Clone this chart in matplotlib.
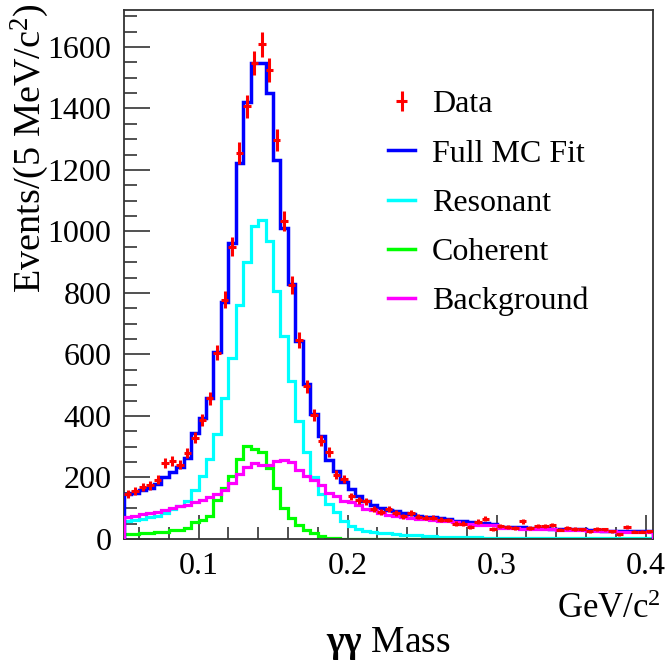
import numpy as np
import matplotlib
matplotlib.use("Agg")
import matplotlib.pyplot as plt
from matplotlib.lines import Line2D
from matplotlib.container import ErrorbarContainer
from matplotlib.legend_handler import HandlerErrorbar

plt.rcParams['font.family'] = ['Liberation Serif', 'DejaVu Serif']
plt.rcParams['mathtext.fontset'] = 'custom'
plt.rcParams['mathtext.rm'] = 'Liberation Serif'
plt.rcParams['mathtext.it'] = 'Liberation Serif:italic'
plt.rcParams['mathtext.bf'] = 'Liberation Serif:bold'

# ---- data (bins of 5 MeV/c^2 from 0.050 to 0.405 GeV/c^2) ----
x_min = 0.05
bin_width = 0.005

data_counts = [147, 155, 170, 174, 193, 247, 253, 242, 280, 329,
               386, 458, 605, 778, 951, 1256, 1407, 1548, 1608, 1524,
               1297, 1034, 826, 648, 496, 404, 320, 282, 209, 195,
               139, 126, 123, 98, 87, 96, 85, 74, 85, 72,
               69, 69, 63, 62, 50, 50, 38, 56, 66, 33,
               42, 40, 36, 58, 36, 42, 42, 46, 30, 36,
               33, 31, 25, 33, 31, 25, 15, 40, 23, 23,
               25]

full_fit = [145, 150, 158, 165, 178, 200, 217, 235, 262, 345,
            395, 460, 607, 769, 964, 1221, 1422, 1549, 1549, 1451,
            1231, 1010, 828, 644, 503, 406, 335, 258, 220, 185,
            161, 139, 125, 112, 101, 95, 90, 85, 80, 76,
            72, 70, 68, 65, 60, 57, 55, 53, 52, 50,
            40, 39, 38, 38, 37, 36, 35, 34, 33, 32,
            32, 31, 30, 28, 27, 27, 26, 26, 25, 25,
            25]

resonant = [58, 62, 66, 70, 76, 86, 96, 108, 125, 160,
            205, 260, 340, 460, 590, 760, 900, 1017, 1036, 968,
            806, 660, 514, 384, 282, 200, 146, 114, 87, 59,
            43, 32, 27, 22, 20, 18, 16, 14, 13, 12,
            10, 9, 8, 7, 6, 6, 5, 5, 4, 4,
            3, 3, 3, 3, 3, 3, 3, 3, 3, 2,
            2, 2, 2, 2, 2, 2, 2, 2, 2, 2,
            2]

coherent = [15, 15, 20, 20, 22, 22, 28, 30, 36, 55,
            62, 76, 128, 166, 204, 260, 301, 293, 282, 231,
            166, 101, 69, 45, 30, 18, 10, 4, 2, 1,
            0, 0, 0, 0, 0, 0, 0, 0, 0, 0,
            0, 0, 0, 0, 0, 0, 0, 0, 0, 0,
            0, 0, 0, 0, 0, 0, 0, 0, 0, 0,
            0, 0, 0, 0, 0, 0, 0, 0, 0, 0,
            0]

background = [72, 76, 80, 84, 88, 94, 100, 106, 112, 120,
              128, 136, 146, 160, 182, 212, 234, 246, 242, 240,
              252, 258, 250, 225, 205, 193, 175, 150, 139, 123,
              120, 112, 98, 94, 85, 78, 75, 72, 69, 66,
              64, 62, 60, 58, 54, 50, 48, 47, 46, 45,
              36, 35, 35, 34, 34, 33, 32, 31, 30, 30,
              29, 28, 27, 26, 25, 25, 24, 24, 23, 23,
              23]

labels = ["Data", "Full MC Fit", "Resonant", "Coherent", "Background"]

# ---- figure ----
W = H = 666
fig = plt.figure(figsize=(W / 100, H / 100), dpi=100)
ax_l, ax_r, ax_t, ax_b = 124, 653, 10, 539
ax = fig.add_axes([ax_l / W, 1 - ax_b / H, (ax_r - ax_l) / W, (ax_b - ax_t) / H])

n = len(data_counts)
edges = x_min + bin_width * np.arange(n + 1)
centers = 0.5 * (edges[:-1] + edges[1:])

ax.stairs(resonant, edges, color='#00ffff', lw=2.3, zorder=2)
ax.stairs(coherent, edges, color='#00ff00', lw=2.3, zorder=2)
ax.stairs(full_fit, edges, color='#0000ff', lw=2.5, zorder=3)
ax.stairs(background, edges, color='#ff00ff', lw=2.3, zorder=4)

d = np.array(data_counts, dtype=float)
eb = ax.errorbar(centers, d, yerr=np.sqrt(d), xerr=bin_width / 2, fmt='none',
                 ecolor='#ff0000', elinewidth=2.2, capsize=0, zorder=5)

ax.set_xlim(0.05, 0.405)
ax.set_ylim(0, 1720)

ax.set_xticks([0.1, 0.2, 0.3, 0.4])
ax.set_xticks(np.arange(0.06, 0.405, 0.02), minor=True)
ax.set_yticks(np.arange(0, 1601, 200))
ax.set_yticks(np.arange(0, 1720, 50), minor=True)
ax.set_xticklabels(["0.1", "0.2", "0.3", "0.4"])

ax.tick_params(axis='both', which='both', direction='in', top=False, right=False,
               colors='#222222', labelcolor='black', width=1.1, labelsize=23)
ax.tick_params(axis='x', which='major', length=17, pad=9)
ax.tick_params(axis='x', which='minor', length=8.5)
ax.tick_params(axis='y', which='major', length=19, pad=9)
ax.tick_params(axis='y', which='minor', length=9.5)
for s in ax.spines.values():
    s.set_linewidth(1.3)
    s.set_color('#333333')

# axis titles
fig.text(30 / W, 1 - 3 / H, r"Events/(5 MeV/c$^{2}$)", rotation=90, ha='center', va='top',
         fontsize=27.5)
fig.text(661 / W, 1 - 618 / H, r"GeV/c$^{2}$", ha='right', va='baseline', fontsize=25)
fig.text(388 / W, 1 - 644 / H, r"$\mathbf{γγ}$ Mass", ha='center', va='center', fontsize=27)

# legend
handles = [eb,
           Line2D([], [], color='#0000ff', lw=2.5),
           Line2D([], [], color='#00ffff', lw=2.5),
           Line2D([], [], color='#00ff00', lw=2.5),
           Line2D([], [], color='#ff00ff', lw=2.5)]
ax.legend(handles, labels, loc='upper left', bbox_to_anchor=(388 / W, 1 - 90 / H),
          bbox_transform=fig.transFigure, frameon=False, fontsize=23,
          handlelength=0.85, handletextpad=0.53, labelspacing=0.62,
          borderpad=0, borderaxespad=0,
          handler_map={ErrorbarContainer: HandlerErrorbar(xerr_size=0.17, yerr_size=0.32)})

fig.savefig("out.png", dpi=100)
